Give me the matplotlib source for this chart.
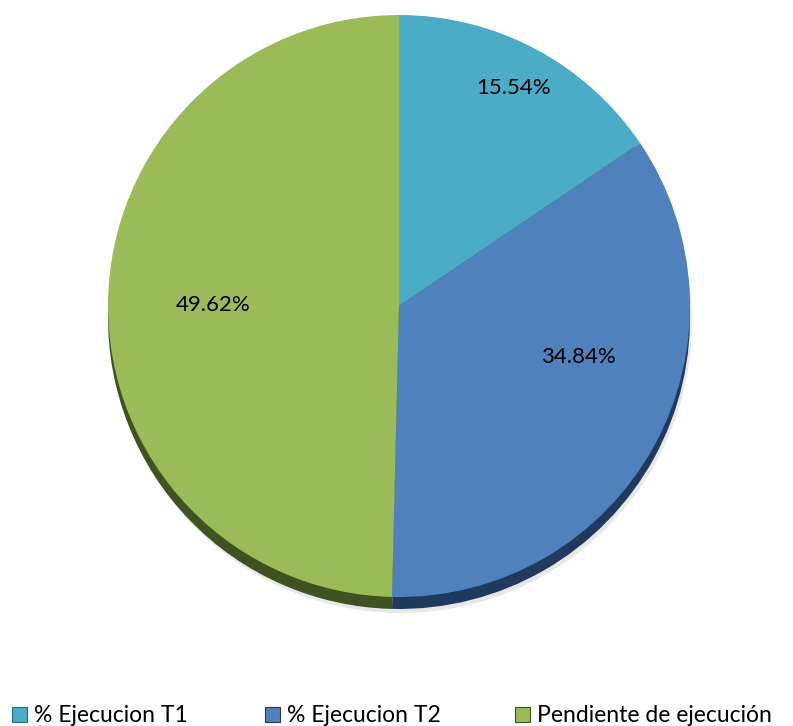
import numpy as np
import matplotlib.pyplot as plt
from matplotlib.patches import Patch

plt.rcParams['font.family'] = ['Lato', 'DejaVu Sans']

etiquetas = ['% Ejecucion T1', '% Ejecucion T2', 'Pendiente de ejecución']
valores = [15.54, 34.84, 49.62]
colores = ['#4bacc6', '#4f81bd', '#9bbb59']
colores_borde = ['#2b6a7c', '#1f3a5e', '#3f5222']

W, H = 793, 726
fig = plt.figure(figsize=(W / 100, H / 100), dpi=100)
ax = fig.add_axes([0, 0, 1, 1])
ax.set_xlim(0, W)
ax.set_ylim(0, H)
ax.set_aspect('equal')
ax.axis('off')

cx, cy, r = 399, H - 306, 291

# sombra suave
ax.pie(valores, startangle=90, counterclock=False, center=(cx + 2, cy - 16), radius=r,
       colors=['#d9d9d9'] * 3, wedgeprops=dict(linewidth=0, alpha=0.6))
# grosor 3D
ax.pie(valores, startangle=90, counterclock=False, center=(cx, cy - 12), radius=r,
       colors=colores_borde, wedgeprops=dict(linewidth=0))
wedges, _, autotexts = ax.pie(valores, startangle=90, counterclock=False, center=(cx, cy),
                              radius=r, colors=colores, autopct='%.2f%%',
                              pctdistance=0.64, wedgeprops=dict(linewidth=0),
                              textprops=dict(fontsize=16, color='black'))

# posiciones de etiquetas como en Excel
pos_etiquetas = [(0.847, 62.2), (0.64, -15.9), (0.64, 179.7)]
for t, (d, ang) in zip(autotexts, pos_etiquetas):
    a = np.deg2rad(ang)
    t.set_position((cx + d * r * np.cos(a), cy + d * r * np.sin(a)))

ax.set_xlim(0, W)
ax.set_ylim(0, H)

# leyenda: una entrada por posicion
x_leyenda = [12, 265, 515]
for etq, c, e, x in zip(etiquetas, colores, colores_borde, x_leyenda):
    h = Patch(facecolor=c, edgecolor=e, linewidth=0.8)
    leg = fig.legend([h], [etq], loc='center left', bbox_to_anchor=(x / W, 1 - 716 / H),
                     frameon=False, fontsize=16.5, handlelength=0.65, handleheight=0.65,
                     handletextpad=0.3, borderpad=0, borderaxespad=0)

fig.savefig('out.png', dpi=100)
